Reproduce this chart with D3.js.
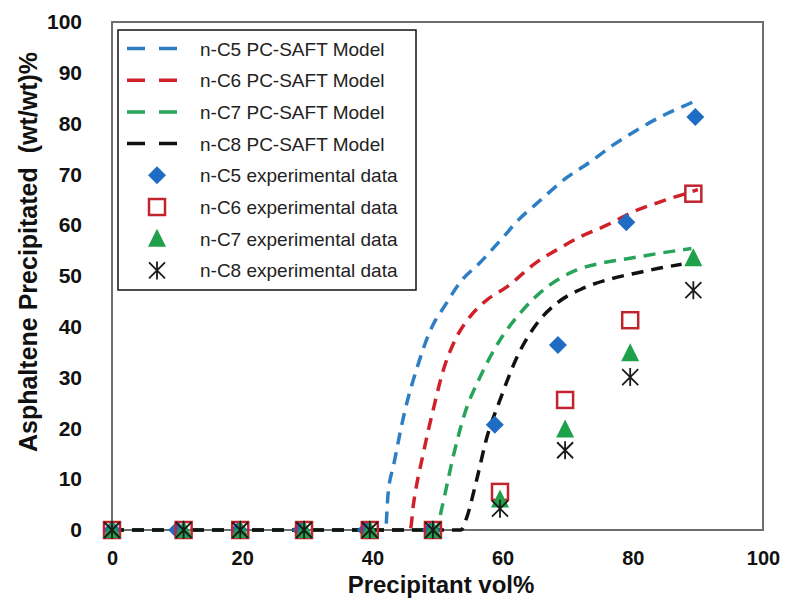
<!DOCTYPE html>
<html>
<head>
<meta charset="utf-8">
<script src="https://cdn.jsdelivr.net/npm/d3@7"></script>
<style>
	body { margin: 0; background: #fff; }
	text { font-family: Arial, "Liberation Sans", sans-serif; }
</style>
</head>
<body>
<div id="chart"></div>
<script>
/*** data ***/
const seriesNames = ["n-C5", "n-C6", "n-C7", "n-C8"];

// PC-SAFT model curves [vol%, wt%]
const modelC5 = [[0, 0], [10, 0], [20, 0], [30, 0], [40, 0], [42, 0], [42.4, 7], [43.3, 13], [45, 23.5],
	[47, 32.5], [48.8, 39], [51.4, 44.7], [53.5, 48.8], [56.5, 52.6], [60, 57.5], [62.4, 61], [65, 64],
	[70, 69.5], [73.4, 72.4], [77, 75.8], [80.6, 78.7], [84.2, 81.3], [88.8, 84], [90, 84.7]];
const modelC6 = [[0, 0], [10, 0], [20, 0], [30, 0], [40, 0], [45.8, 0], [46.3, 5], [47.8, 15], [49.4, 24],
	[50.9, 31.5], [52.7, 37.4], [55, 42], [57.6, 45.3], [60.6, 47.8], [65, 52.5], [68.8, 55.5],
	[71.9, 57.7], [76, 60], [80, 62.6], [84.2, 64.6], [88.3, 66.3], [90, 67]];
const modelC7 = [[0, 0], [10, 0], [20, 0], [30, 0], [40, 0], [49.8, 0], [50.7, 4.5], [52.4, 14.4], [54.2, 23],
	[56.5, 30], [59.6, 37.4], [62.7, 42.7], [66.8, 47.8], [71.4, 51.2], [75.4, 52.6], [79.6, 53.5],
	[84.2, 54.5], [89, 55.4]];
const modelC8 = [[0, 0], [10, 0], [20, 0], [30, 0], [40, 0], [53.6, 0], [54.5, 2.5], [56, 9.8], [57.6, 18.3],
	[59.6, 25.6], [62.2, 34], [65.3, 40.7], [68.4, 44.7], [72.4, 47.6], [76.5, 49.4], [80.6, 50.6],
	[85.2, 51.8], [87.5, 52.3]];

// experimental data
const expXC5 = [0, 10, 19.5, 29, 39, 49, 58.8, 68.5, 79, 89.6];
const expX = [0, 11, 19.7, 29.5, 39.6, 49.3, 59.6, 69.6, 79.6, 89.3];
const expC5 = [0, 0, 0, 0, 0, 0, 20.7, 36.4, 60.6, 81.3];
const expC6 = [0, 0, 0, 0, 0, 0, 7.5, 25.6, 41.3, 66.2];
const expC7 = [0, 0, 0, 0, 0, 0, 6, 19.8, 34.8, 53.5];
const expC8 = [0, 0, 0, 0, 0, 0, 4.2, 15.7, 30.1, 47.2];

const xTicks = [0, 20, 40, 60, 80, 100];
const yTicks = [0, 10, 20, 30, 40, 50, 60, 70, 80, 90, 100];

(function (d3) {
	"use strict";

	/*** layout parameters ***/
	var width = 786, height = 604;
	var plot = { left: 112, right: 763, top: 22, bottom: 530 };
	var lineColors = ["#2E7EC3", "#D0202A", "#27A35A", "#111111"];

	var svg = d3.select("#chart")
		.append("svg")
		.attr("width", width)
		.attr("height", height);
	svg.append("rect").attr("width", width).attr("height", height).attr("fill", "#fff");

	/*** scales ***/
	var xScale = d3.scaleLinear().domain([0, 100]).range([plot.left, plot.right]);
	var yScale = d3.scaleLinear().domain([0, 100]).range([plot.bottom, plot.top]);

	/*** axes ***/
	var yAxis = d3.axisLeft(yScale).tickValues(yTicks).tickSize(0).tickPadding(30);
	var xAxis = d3.axisBottom(xScale).tickValues(xTicks).tickSize(0).tickPadding(21);

	svg.append("g")
		.attr("transform", "translate(" + plot.left + ",0)")
		.call(yAxis)
		.call(g => g.select(".domain").remove())
		.selectAll("text")
		.attr("font-size", 21).attr("font-weight", "bold").attr("fill", "#111")
		.style("font-family", "Arial, 'Liberation Sans', sans-serif");

	svg.append("g")
		.attr("transform", "translate(0," + plot.bottom + ")")
		.call(xAxis)
		.call(g => g.select(".domain").remove())
		.selectAll("text")
		.attr("font-size", 20).attr("font-weight", "bold").attr("fill", "#111")
		.style("font-family", "Arial, 'Liberation Sans', sans-serif");

	// plot frame
	svg.append("rect")
		.attr("x", plot.left).attr("y", plot.top)
		.attr("width", plot.right - plot.left).attr("height", plot.bottom - plot.top)
		.attr("fill", "none").attr("stroke", "#6e6e6e").attr("stroke-width", 2);

	/*** axis titles ***/
	svg.append("text")
		.attr("x", 441).attr("y", 593)
		.attr("text-anchor", "middle")
		.attr("font-size", 24).attr("font-weight", "bold").attr("fill", "#111")
		.text("Precipitant vol%");

	svg.append("text")
		.attr("transform", "translate(37,252) rotate(-90)")
		.attr("text-anchor", "middle")
		.attr("font-size", 25).attr("font-weight", "bold").attr("fill", "#111")
		.attr("xml:space", "preserve")
		.text("Asphaltene Precipitated  (wt/wt)%");

	/*** model curves ***/
	var line = d3.line()
		.x(d => xScale(d[0]))
		.y(d => yScale(d[1]))
		.curve(d3.curveMonotoneX);

	var models = [modelC5, modelC6, modelC7, modelC8];
	models.forEach(function (m, i) {
		svg.append("path")
			.datum(m)
			.attr("d", line)
			.attr("fill", "none")
			.attr("stroke", lineColors[i])
			.attr("stroke-width", 3.5)
			.attr("stroke-dasharray", "12,8");
	});

	/*** markers ***/
	function drawMarker(g, type, x, y) {
		if (type === "diamond") {
			g.append("path")
				.attr("d", "M" + x + "," + (y - 9) + "L" + (x + 9) + "," + y + "L" + x + "," + (y + 9) + "L" + (x - 9) + "," + y + "Z")
				.attr("fill", "#1F6DC2");
		} else if (type === "square") {
			g.append("rect")
				.attr("x", x - 8).attr("y", y - 8).attr("width", 16).attr("height", 16)
				.attr("fill", "none").attr("stroke", "#C0242E").attr("stroke-width", 2.5);
		} else if (type === "triangle") {
			g.append("path")
				.attr("d", "M" + x + "," + (y - 10) + "L" + (x + 9) + "," + (y + 8) + "L" + (x - 9) + "," + (y + 8) + "Z")
				.attr("fill", "#1FA04A");
		} else {
			g.append("path")
				.attr("d", "M" + (x - 8) + "," + (y - 8) + "L" + (x + 8) + "," + (y + 8) +
					"M" + (x + 8) + "," + (y - 8) + "L" + (x - 8) + "," + (y + 8) +
					"M" + x + "," + (y - 9) + "L" + x + "," + (y + 9))
				.attr("fill", "none").attr("stroke", "#1a1a1a").attr("stroke-width", 1.8);
		}
	}

	var markerTypes = ["diamond", "square", "triangle", "star"];
	var expSeries = [
		{ xs: expXC5, ys: expC5 },
		{ xs: expX, ys: expC6 },
		{ xs: expX, ys: expC7 },
		{ xs: expX, ys: expC8 }
	];
	expSeries.forEach(function (s, i) {
		var g = svg.append("g");
		s.ys.forEach(function (v, j) {
			drawMarker(g, markerTypes[i], xScale(s.xs[j]), yScale(v));
		});
	});

	/*** legend ***/
	var legend = svg.append("g");
	legend.append("rect")
		.attr("x", 118).attr("y", 30).attr("width", 298).attr("height", 260)
		.attr("fill", "#fff").attr("stroke", "#111").attr("stroke-width", 1.5);

	var rowY = d => 48.5 + d * 31.7;
	seriesNames.forEach(function (name, i) {
		legend.append("line")
			.attr("x1", 127).attr("x2", 177)
			.attr("y1", rowY(i)).attr("y2", rowY(i))
			.attr("stroke", lineColors[i]).attr("stroke-width", 3.5)
			.attr("stroke-dasharray", "18,14");
		legend.append("text")
			.attr("x", 200).attr("y", rowY(i) + 7)
			.attr("font-size", 19).attr("fill", "#222")
			.text(name + " PC-SAFT Model");
	});
	seriesNames.forEach(function (name, i) {
		drawMarker(legend, markerTypes[i], 157, rowY(i + 4));
		legend.append("text")
			.attr("x", 200).attr("y", rowY(i + 4) + 7)
			.attr("font-size", 19).attr("fill", "#222")
			.text(name + " experimental data");
	});

})(d3);
</script>
</body>
</html>
